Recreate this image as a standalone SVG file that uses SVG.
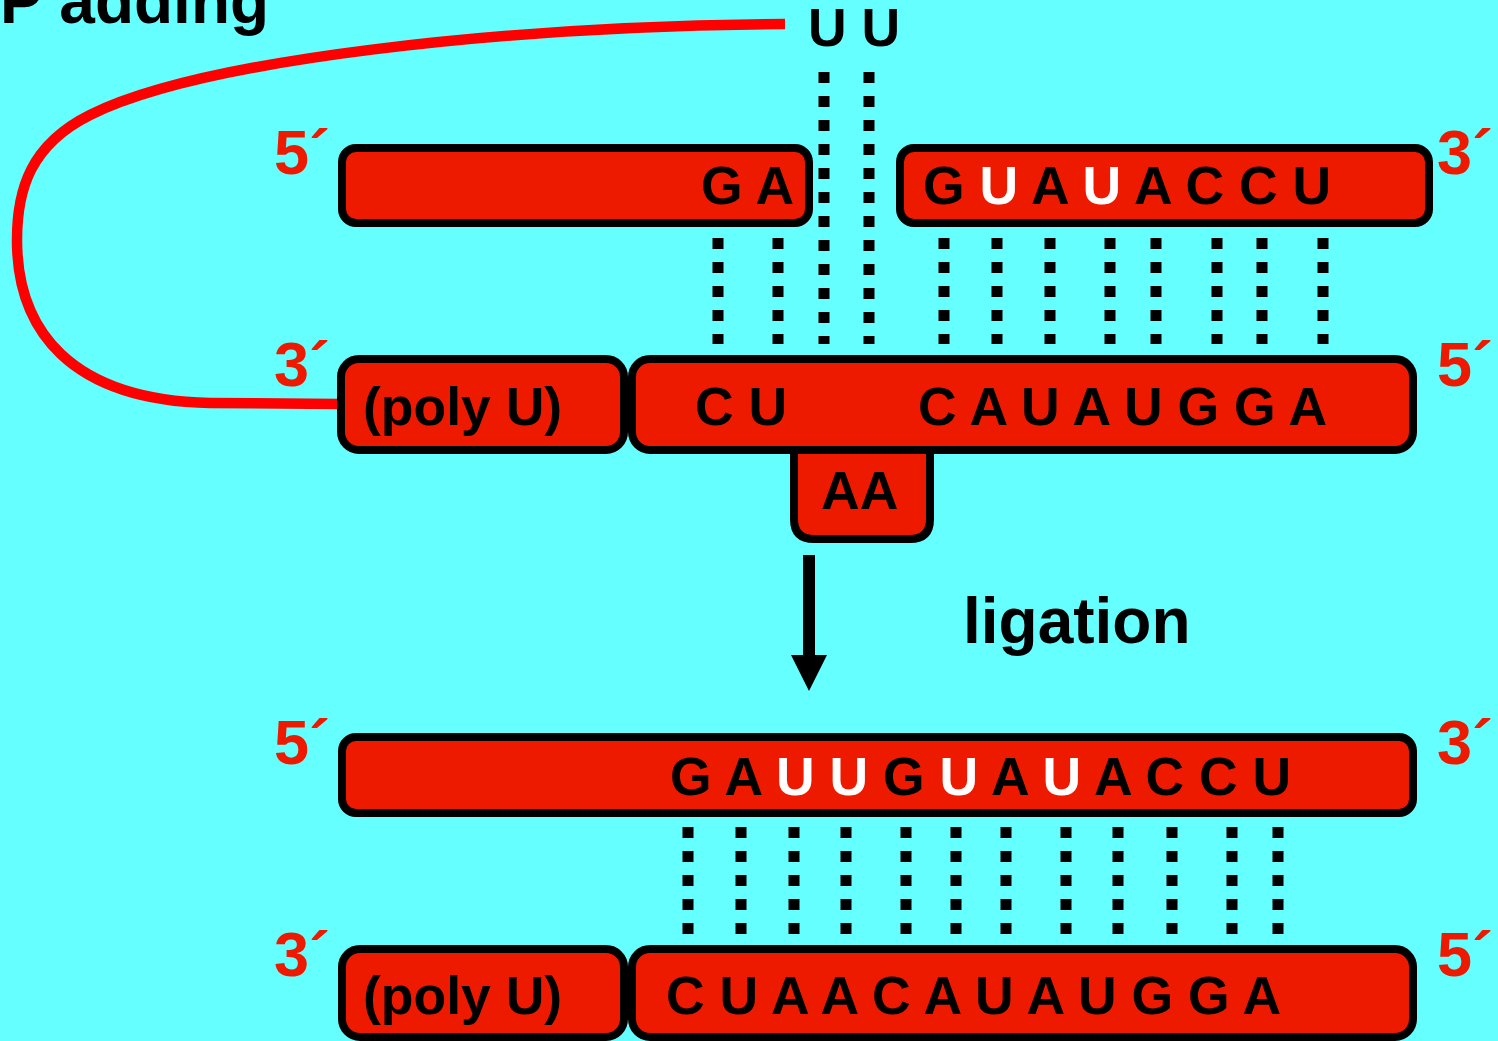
<svg xmlns="http://www.w3.org/2000/svg" width="1498" height="1041" viewBox="0 0 1498 1041">
<defs>
<style>
.box{fill:#EE1A00;stroke:#000;stroke-width:8}
.seq{font-family:"Liberation Sans",Arial,sans-serif;font-weight:bold;font-size:53.5px;fill:#000}
.w{fill:#fff}
.prime{font-family:"Liberation Sans",Arial,sans-serif;font-weight:bold;font-size:63px;fill:#EE1A00}
.big{font-family:"Liberation Sans",Arial,sans-serif;font-weight:bold;font-size:64px;fill:#000}
.dots{stroke:#000;stroke-width:11;stroke-dasharray:11 13;fill:none}
</style>
</defs>
<rect x="0" y="0" width="1498" height="1041" fill="#66FFFF"/>
<text id="title" class="big" x="0" y="23">P adding</text>
<g id="connectors">
<path id="loop" d="M 785 24 C 500 26, 200 60, 90 115 C 30 145, 17 190, 17 240 C 17 330, 70 400, 210 403 L 338 404" fill="none" stroke="#FF0000" stroke-width="10.5"/>
<g class="dots">
<line x1="824" y1="72" x2="824" y2="344"/>
<line x1="869" y1="72" x2="869" y2="344"/>
<line x1="718" y1="238" x2="718" y2="344"/>
<line x1="778" y1="238" x2="778" y2="344"/>
<line x1="944" y1="238" x2="944" y2="344"/>
<line x1="997" y1="238" x2="997" y2="344"/>
<line x1="1050" y1="238" x2="1050" y2="344"/>
<line x1="1110" y1="238" x2="1110" y2="344"/>
<line x1="1156" y1="238" x2="1156" y2="344"/>
<line x1="1217" y1="238" x2="1217" y2="344"/>
<line x1="1262" y1="238" x2="1262" y2="344"/>
<line x1="1323" y1="238" x2="1323" y2="344"/>
<line x1="688" y1="827" x2="688" y2="934"/>
<line x1="741" y1="827" x2="741" y2="934"/>
<line x1="794" y1="827" x2="794" y2="934"/>
<line x1="846" y1="827" x2="846" y2="934"/>
<line x1="906" y1="827" x2="906" y2="934"/>
<line x1="956" y1="827" x2="956" y2="934"/>
<line x1="1006" y1="827" x2="1006" y2="934"/>
<line x1="1066" y1="827" x2="1066" y2="934"/>
<line x1="1118" y1="827" x2="1118" y2="934"/>
<line x1="1172" y1="827" x2="1172" y2="934"/>
<line x1="1232" y1="827" x2="1232" y2="934"/>
<line x1="1278" y1="827" x2="1278" y2="934"/>
</g>
<g id="arrow">
<line x1="809" y1="555" x2="809" y2="660" stroke="#000" stroke-width="12"/>
<polygon points="791,655 827,655 809,691" fill="#000"/>
</g>
</g>
<text id="uu" class="seq" x="808" y="46">U U</text>
<g id="top-left-strand">
<rect class="box" x="342" y="148" width="467" height="75" rx="14"/>
<text class="seq" x="701" y="204">G A</text>
<text class="prime" x="274" y="174">5´</text>
</g>
<g id="top-right-strand">
<rect class="box" x="900" y="148" width="529" height="75" rx="14"/>
<text class="seq" x="923" y="204">G <tspan class="w">U</tspan> A <tspan class="w">U</tspan> A C C U</text>
<text class="prime" x="1437" y="174">3´</text>
</g>
<g id="aa-bulge">
<path class="box" d="M 794 440 L 794 519 Q 794 539 814 539 L 910 539 Q 930 539 930 519 L 930 440 Z"/>
<text class="seq" x="821" y="509">AA</text>
</g>
<g id="polyU-1">
<rect class="box" x="341" y="359" width="283" height="91" rx="18"/>
<text class="seq" x="363" y="425">(poly U)</text>
<text class="prime" x="274" y="386">3´</text>
</g>
<g id="template-1">
<rect class="box" x="632" y="359" width="781" height="91" rx="18"/>
<text class="seq" x="695" y="425">C U</text>
<text class="seq" x="918" y="425">C A U A U G G A</text>
<text class="prime" x="1437" y="386">5´</text>
</g>
<text id="ligation" class="big" x="963" y="643">ligation</text>
<g id="ligated-strand">
<rect class="box" x="342" y="737" width="1071" height="76" rx="14"/>
<text class="seq" x="670" y="795">G A <tspan class="w">U</tspan> <tspan class="w">U</tspan> G <tspan class="w">U</tspan> A <tspan class="w">U</tspan> A C C U</text>
<text class="prime" x="274" y="764">5´</text>
<text class="prime" x="1437" y="764">3´</text>
</g>
<g id="polyU-2">
<rect class="box" x="342" y="949" width="282" height="88" rx="18"/>
<text class="seq" x="363" y="1014">(poly U)</text>
<text class="prime" x="274" y="976">3´</text>
</g>
<g id="template-2">
<rect class="box" x="632" y="949" width="781" height="88" rx="18"/>
<text class="seq" x="666" y="1014">C U A A C A U A U G G A</text>
<text class="prime" x="1437" y="976">5´</text>
</g>
</svg>
